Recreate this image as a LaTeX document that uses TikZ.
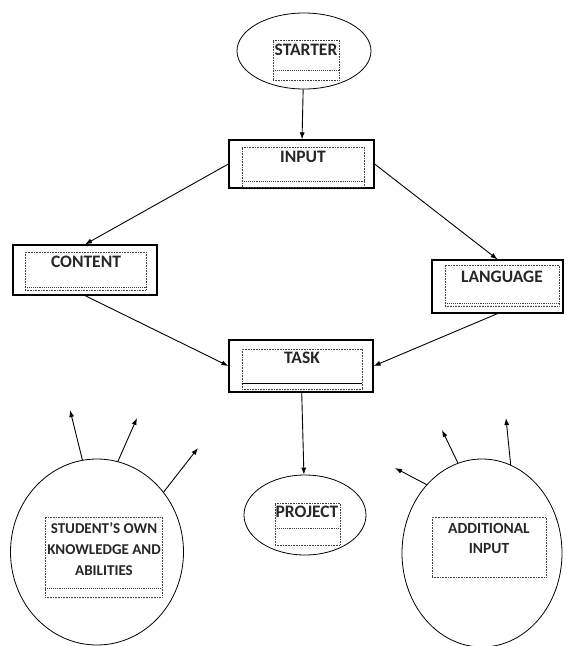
\documentclass[tikz,border=0pt]{standalone}
\usepackage{fontspec}
\setmainfont{Carlito}
\usetikzlibrary{arrows.meta,shapes.geometric}
\tikzset{
  outerbox/.style={draw,line width=1.2pt,inner sep=0pt},
  oval/.style={draw,ellipse,line width=0.8pt,inner sep=0pt},
  framebox/.style={draw=black!75,densely dotted,line width=0.6pt,inner sep=0pt},
  lbl/.style={font=\bfseries\fontsize{17.5}{21}\selectfont,inner sep=0pt,text=black!85},
  botline/.style={draw=black!75,densely dotted,line width=1.1pt},
  flow/.style={-{Latex[length=7pt,width=5pt]},line width=0.9pt},
}

\begin{document}
\begin{tikzpicture}[x=1pt,y=-1pt]
\useasboundingbox (0,0) rectangle (566,646);
% outer shapes
\node[oval,minimum width=134pt,minimum height=76pt] (starter) at (304,51) {};
\node[outerbox,minimum width=145pt,minimum height=48pt] (input) at (301.5,164) {};
\node[outerbox,minimum width=144pt,minimum height=50pt] (content) at (85,270) {};
\node[outerbox,minimum width=131pt,minimum height=53pt] (language) at (497.5,286.5) {};
\node[outerbox,minimum width=144pt,minimum height=52pt] (task) at (301,366) {};
\node[oval,minimum width=122pt,minimum height=80pt] (project) at (305,515) {};
\node[oval,minimum width=173pt,minimum height=186pt] (own) at (97,552) {};
\node[oval,minimum width=160pt,minimum height=188pt] (addl) at (482,553) {};
% dotted text frames
\node[framebox,minimum width=66pt,minimum height=40pt] (starterbox) at (306,60) {};
\node[framebox,minimum width=122pt,minimum height=40pt] (inputbox) at (303,167) {};
\node[framebox,minimum width=121pt,minimum height=38pt] (contentbox) at (85.5,271) {};
\node[framebox,minimum width=114pt,minimum height=41pt] (languagebox) at (502,285.5) {};
\node[framebox,minimum width=120pt,minimum height=40pt] (taskbox) at (302,369) {};
\node[framebox,minimum width=65pt,minimum height=42pt] (projectbox) at (307.5,524) {};
\node[framebox,minimum width=117pt,minimum height=80pt] (ownbox) at (103.5,557) {};
\node[framebox,minimum width=114pt,minimum height=60pt] (addlbox) at (489,547) {};
\draw[botline] ([yshift=10pt]starterbox.south west) -- ([yshift=10pt]starterbox.south east);
\draw[botline] ([yshift=6pt]inputbox.south west) -- ([yshift=6pt]inputbox.south east);
\draw[botline] ([yshift=3pt]contentbox.south west) -- ([yshift=3pt]contentbox.south east);
\draw[botline] ([yshift=3pt]languagebox.south west) -- ([yshift=3pt]languagebox.south east);
\draw[line width=0.6pt] ([yshift=6pt]taskbox.south west) -- ([yshift=6pt]taskbox.south east);
\draw[botline] ([yshift=17pt]projectbox.south west) -- ([yshift=17pt]projectbox.south east);
\draw[botline] ([yshift=9pt]ownbox.south west) -- ([yshift=9pt]ownbox.south east);
% labels
\node[lbl] (startertxt) at (306,50) {STARTER};
\node[lbl] (inputtxt) at (303,157) {INPUT};
\node[lbl] (contenttxt) at (86,262) {CONTENT};
\node[lbl] (languagetxt) at (502,277) {LANGUAGE};
\node[lbl] (tasktxt) at (302,358) {TASK};
\node[lbl] (projecttxt) at (307,512) {PROJECT};
\node[lbl,align=center,font=\bfseries\fontsize{15}{21}\selectfont] (owntxt) at (104,549) {STUDENT'S OWN\\KNOWLEDGE AND\\ABILITIES};
\node[lbl,align=center,font=\bfseries\fontsize{15.5}{20}\selectfont] (addltxt) at (489,538) {ADDITIONAL\\INPUT};
% connectors
\draw[flow] (starter) -- (input);
\draw[flow] (input.west) -- (content.north);
\draw[flow] (input.east) -- (language.north);
\draw[flow] (content.south) -- (task.west);
\draw[flow] (language.south) -- (task.east);
\draw[flow] (task) -- (project);
% free arrows
\coordinate (own1) at (70,410);
\coordinate (own2) at (137,418);
\coordinate (own3) at (198,448);
\coordinate (addl1) at (395,468);
\coordinate (addl2) at (442,430);
\coordinate (addl3) at (506,418);
\draw[flow] (own.99) -- (own1);
\draw[flow] (own.77) -- (own2);
\draw[flow] (own.42) -- (own3);
\draw[flow] (addl.129) -- (addl1);
\draw[flow] (addl.105) -- (addl2);
\draw[flow] (addl.72) -- (addl3);
\end{tikzpicture}
\end{document}
